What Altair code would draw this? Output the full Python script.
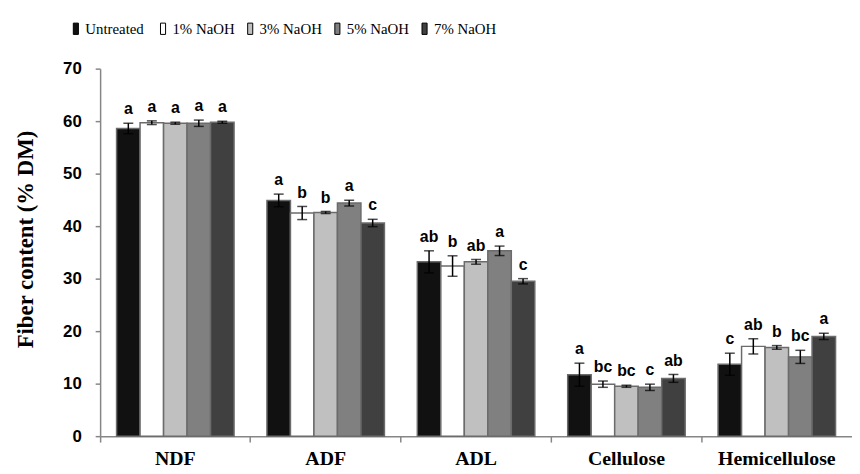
import altair as alt
import pandas as pd

categories = ["NDF", "ADF", "ADL", "Cellulose", "Hemicellulose"]
treatments = ["Untreated", "1% NaOH", "3% NaOH", "5% NaOH", "7% NaOH"]
colors = ["#111111", "#ffffff", "#c0c0c0", "#808080", "#404040"]

untreated = [58.6, 44.9, 33.2, 11.7, 13.7]
naoh1 = [59.7, 42.5, 32.4, 9.9, 17.1]
naoh3 = [59.6, 42.6, 33.2, 9.5, 16.9]
naoh5 = [59.6, 44.4, 35.3, 9.3, 15.1]
naoh7 = [59.8, 40.6, 29.5, 11.0, 19.0]

untreated_err = [1.0, 1.2, 2.1, 2.2, 2.1]
naoh1_err = [0.35, 1.25, 1.95, 0.6, 1.45]
naoh3_err = [0.2, 0.2, 0.45, 0.2, 0.35]
naoh5_err = [0.6, 0.55, 0.9, 0.6, 1.25]
naoh7_err = [0.2, 0.7, 0.5, 0.75, 0.6]

untreated_lbl = ["a", "a", "ab", "a", "c"]
naoh1_lbl = ["a", "b", "b", "bc", "ab"]
naoh3_lbl = ["a", "b", "ab", "bc", "b"]
naoh5_lbl = ["a", "a", "a", "c", "bc"]
naoh7_lbl = ["a", "c", "c", "ab", "a"]

means = [untreated, naoh1, naoh3, naoh5, naoh7]
errs = [untreated_err, naoh1_err, naoh3_err, naoh5_err, naoh7_err]
lbls = [untreated_lbl, naoh1_lbl, naoh3_lbl, naoh5_lbl, naoh7_lbl]

rows = []
for t, m, e, l in zip(treatments, means, errs, lbls):
    for c, mv, ev, lv in zip(categories, m, e, l):
        rows.append({"cat": c, "treat": t, "mean": mv, "low": mv - ev,
                     "high": mv + ev, "lbl": lv})
df = pd.DataFrame(rows)

W, H = 759, 371

x_enc = alt.X("cat:N", sort=categories,
              scale=alt.Scale(paddingInner=0, paddingOuter=0),
              axis=alt.Axis(title=None, bandPosition=0,
                            labelAngle=0, labelOverlap=False,
                            labelFont="Liberation Serif", labelFontWeight="bold",
                            labelFontSize=20, labelColor="black",
                            labelPadding=7, tickSize=6, tickColor="#868686",
                            tickWidth=1.5, domainColor="#868686", domainWidth=1.5))
xo_enc = alt.XOffset("treat:N", sort=treatments,
                     scale=alt.Scale(paddingInner=0, paddingOuter=0.7))
y_scale = alt.Scale(domain=[0, 70], nice=False)

base = alt.Chart(df)

bars = base.mark_bar(stroke="#6b6b6b", strokeWidth=1.5).encode(
    x=x_enc, xOffset=xo_enc,
    y=alt.Y("mean:Q", scale=y_scale,
            axis=alt.Axis(title="Fiber content (%  DM)", values=list(range(0, 71, 10)),
                          grid=False, tickSize=5, tickColor="#868686", tickWidth=1.5,
                          domainColor="#868686", domainWidth=1.5,
                          labelFont="Liberation Sans", labelFontWeight="bold",
                          labelFontSize=17, labelColor="black", labelPadding=14,
                          titleFont="Liberation Serif", titleFontWeight="bold",
                          titleFontSize=23, titleColor="black", titlePadding=25,
                          titleY=172)),
    color=alt.Color("treat:N", sort=treatments,
                    scale=alt.Scale(domain=treatments, range=colors),
                    legend=alt.Legend(orient="none", direction="horizontal",
                                      legendX=-32, legendY=-48, title=None,
                                      symbolType="M-0.45,-1H0.45V1H-0.45Z",
                                      symbolSize=130, symbolStrokeColor="black",
                                      symbolStrokeWidth=1, symbolOpacity=1,
                                      labelFont="Liberation Serif", labelFontSize=15,
                                      labelColor="black", labelOffset=2,
                                      columnPadding=8, gridAlign="all", padding=0)),
)

errs_rule = base.mark_rule(color="black", strokeWidth=1.5).encode(
    x=x_enc, xOffset=xo_enc, y=alt.Y("low:Q", scale=y_scale), y2="high:Q")
cap_lo = base.mark_tick(color="black", thickness=1.5, size=10).encode(
    x=x_enc, xOffset=xo_enc, y=alt.Y("low:Q", scale=y_scale))
cap_hi = base.mark_tick(color="black", thickness=1.5, size=10).encode(
    x=x_enc, xOffset=xo_enc, y=alt.Y("high:Q", scale=y_scale))
text = base.mark_text(dy=-6, baseline="bottom", font="Liberation Sans",
                      fontWeight="bold", fontSize=16, color="black").encode(
    x=x_enc, xOffset=xo_enc, y=alt.Y("high:Q", scale=y_scale), text="lbl:N")

chart = alt.layer(bars, errs_rule, cap_lo, cap_hi, text).properties(
    width=W, height=H,
    autosize=alt.AutoSizeParams(type="none"),
    padding={"left": 93, "top": 59, "right": 0, "bottom": 36},
).configure_view(stroke=None)

chart.save("out.html", embed_options={"renderer": "svg", "actions": False})
